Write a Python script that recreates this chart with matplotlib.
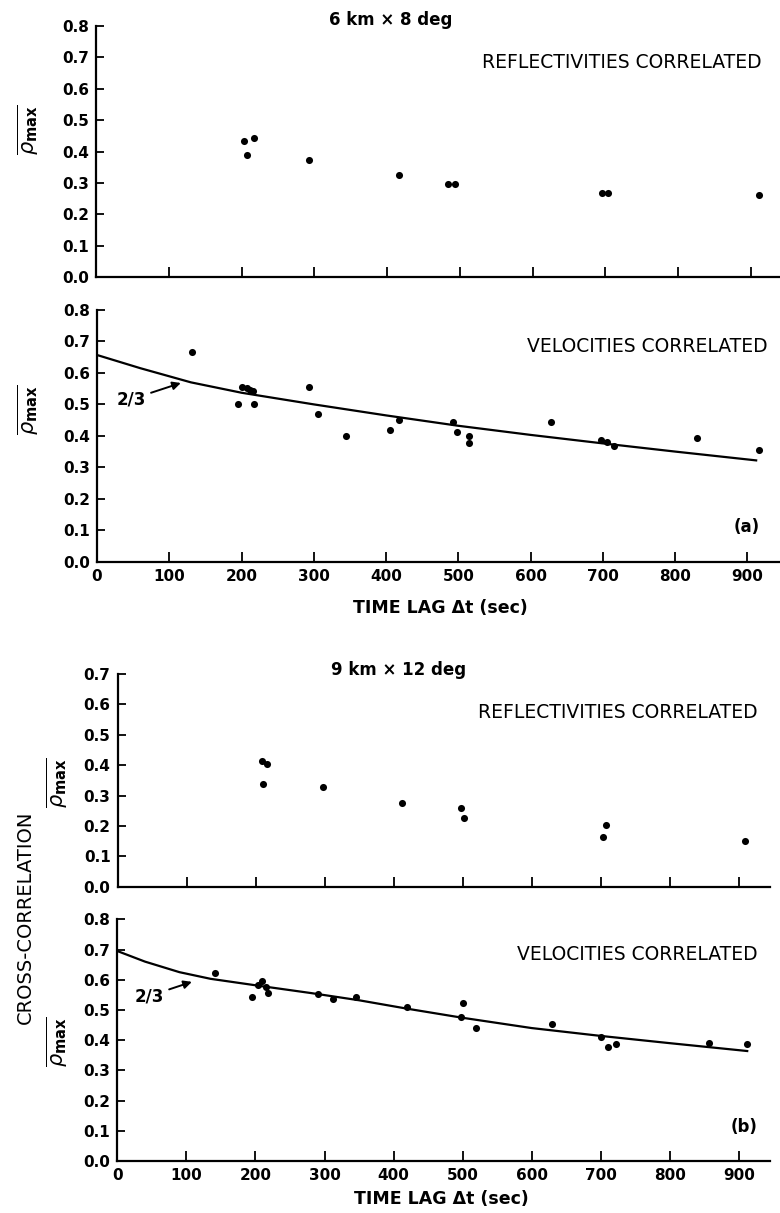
import numpy as np
import matplotlib.pyplot as plt

plt.rcParams['font.family'] = ['DejaVu Sans']

# 6 km x 8 deg : reflectivities correlated
t_ref_a = [204, 208, 217, 293, 416, 484, 493, 695, 704, 911]
r_ref_a = [0.433, 0.389, 0.443, 0.373, 0.325, 0.298, 0.298, 0.268, 0.268, 0.261]

# 6 km x 8 deg : velocities correlated
t_vel_a = [132, 195, 201, 207, 211, 216, 217, 293, 306, 345, 406, 418,
           493, 498, 515, 515, 628, 697, 706, 716, 830, 916]
r_vel_a = [0.667, 0.500, 0.556, 0.551, 0.546, 0.542, 0.500, 0.556, 0.470, 0.400, 0.420, 0.450,
           0.445, 0.413, 0.400, 0.376, 0.443, 0.387, 0.381, 0.368, 0.394, 0.355]
t_fit_a = [0, 60, 130, 200, 300, 400, 500, 600, 700, 800, 912]
r_fit_a = [0.657, 0.615, 0.570, 0.537, 0.500, 0.465, 0.432, 0.403, 0.376, 0.350, 0.322]

# 9 km x 12 deg : reflectivities correlated
t_ref_b = [209, 211, 216, 297, 412, 497, 502, 703, 708, 909]
r_ref_b = [0.413, 0.337, 0.405, 0.328, 0.276, 0.258, 0.226, 0.163, 0.204, 0.152]

# 9 km x 12 deg : velocities correlated
t_vel_b = [142, 195, 204, 209, 215, 218, 291, 312, 346, 420, 497, 501,
           519, 630, 700, 711, 722, 856, 912]
r_vel_b = [0.621, 0.544, 0.583, 0.595, 0.577, 0.555, 0.553, 0.536, 0.544, 0.509, 0.476, 0.524,
           0.439, 0.452, 0.411, 0.378, 0.386, 0.390, 0.386]
t_fit_b = [0, 40, 90, 135, 205, 280, 350, 420, 500, 600, 700, 800, 912]
r_fit_b = [0.695, 0.660, 0.625, 0.603, 0.580, 0.556, 0.532, 0.504, 0.474, 0.440, 0.414, 0.390, 0.364]

W, H = 780, 1213
fig = plt.figure(figsize=(W / 100, H / 100), dpi=100)


def make_axes(left, right, bottom, top, xmax, ymax, xlabels):
    ax = fig.add_axes([left / W, 1 - bottom / H, (right - left) / W, (bottom - top) / H])
    ax.set_xlim(0, xmax)
    ax.set_ylim(0, ymax)
    for s in ['top', 'right']:
        ax.spines[s].set_visible(False)
    for s in ['left', 'bottom']:
        ax.spines[s].set_linewidth(1.6)
    ax.set_xticks(np.arange(0, 901, 100))
    ax.set_yticks(np.round(np.arange(0, ymax + 0.01, 0.1), 1))
    ax.set_yticklabels(['%.1f' % v for v in ax.get_yticks()])
    ax.tick_params(direction='in', width=1.3, labelsize=11, pad=5)
    ax.tick_params(axis='x', length=7)
    ax.tick_params(axis='y', length=6)
    if not xlabels:
        ax.set_xticklabels([])
    for lab in ax.get_xticklabels() + ax.get_yticklabels():
        lab.set_fontweight('bold')
    return ax


def dots(ax, t, r):
    ax.scatter(t, r, s=26, color='black', zorder=3, linewidths=0)


def fit_label(ax, tip, at):
    ax.annotate('2/3', xy=tip, xytext=at, ha='center', va='center',
                fontsize=12, fontweight='bold',
                arrowprops=dict(arrowstyle='-|>', color='black', lw=1.4,
                                mutation_scale=12, shrinkA=2, shrinkB=0))


ylab = r'$\overline{\rho_{\mathbf{max}}}$'

# upper figure (a)
ax1 = make_axes(96, 780, 277, 26, 940, 0.8, False)
dots(ax1, t_ref_a, r_ref_a)

ax2 = make_axes(97, 780, 561.7, 310, 945, 0.8, True)
dots(ax2, t_vel_a, r_vel_a)
ax2.plot(t_fit_a, r_fit_a, color='black', lw=1.6)
fit_label(ax2, (116, 0.568), (47, 0.516))

# lower figure (b)
ax3 = make_axes(117.5, 770, 886.7, 674, 945, 0.7, False)
dots(ax3, t_ref_b, r_ref_b)

ax4 = make_axes(117.3, 770, 1161, 919.3, 945, 0.8, True)
dots(ax4, t_vel_b, r_vel_b)
ax4.plot(t_fit_b, r_fit_b, color='black', lw=1.6)
fit_label(ax4, (108, 0.593), (46, 0.546))


def ftext(x, y, s, **kw):
    fig.text(x / W, 1 - y / H, s, va='center', **kw)


for y in (130, 410):
    ftext(28, y, ylab, ha='center', rotation=90, fontsize=15)
for y in (783, 1042):
    ftext(57, y, ylab, ha='center', rotation=90, fontsize=15)

ftext(25, 917, 'CROSS-CORRELATION', ha='center', rotation=90, fontsize=14)

ftext(391, 20, '6 km × 8 deg', ha='center', fontsize=12, fontweight='bold')
ftext(762, 63, 'REFLECTIVITIES CORRELATED', ha='right', fontsize=13.5)
ftext(768, 347, 'VELOCITIES CORRELATED', ha='right', fontsize=13.5)
ftext(760, 527, '(a)', ha='right', fontsize=12, fontweight='bold')
ftext(440, 608, 'TIME LAG Δt (sec)', ha='center', fontsize=12.5, fontweight='bold')

ftext(399, 670, '9 km × 12 deg', ha='center', fontsize=12, fontweight='bold')
ftext(758, 712, 'REFLECTIVITIES CORRELATED', ha='right', fontsize=13.5)
ftext(758, 955, 'VELOCITIES CORRELATED', ha='right', fontsize=13.5)
ftext(758, 1127, '(b)', ha='right', fontsize=12, fontweight='bold')
ftext(441, 1199, 'TIME LAG Δt (sec)', ha='center', fontsize=12.5, fontweight='bold')

fig.savefig('out.png', dpi=100)
